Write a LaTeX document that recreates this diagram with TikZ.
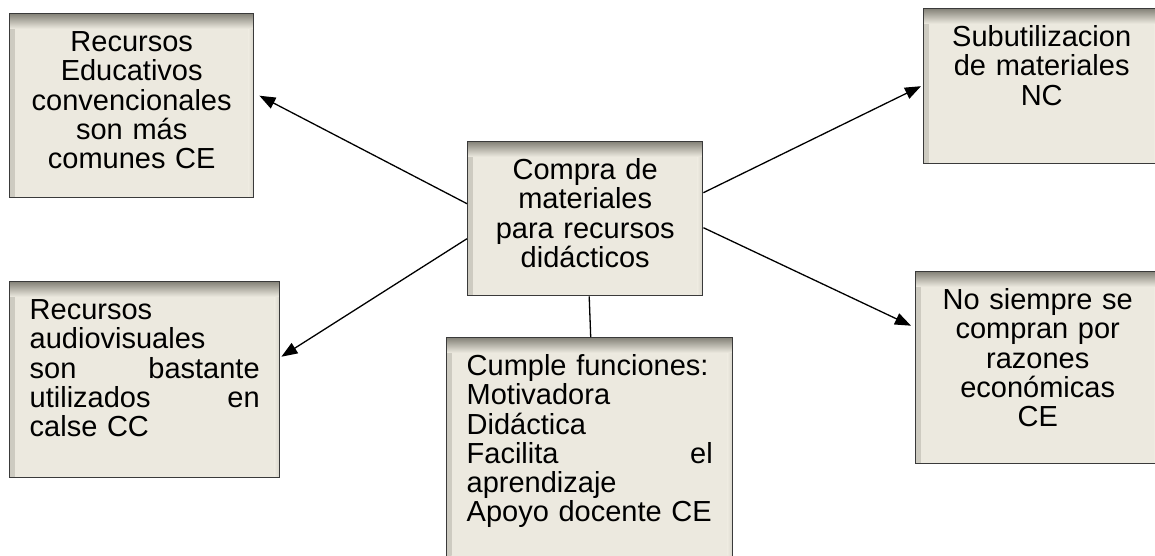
\documentclass[tikz,border=0pt]{standalone}
\usepackage{fontspec}
\setmainfont{Liberation Sans}
\usepackage{tikz}
\usetikzlibrary{arrows.meta}
\definecolor{boxfill}{HTML}{ECE9DF}
\definecolor{boxshade}{HTML}{858379}
\definecolor{boxline}{HTML}{3A3A3A}
\newcommand{\spread}{\hskip 0pt plus 1filll\relax}
\tikzset{
		concept/.style={draw=boxline, line width=1.4pt, fill=boxfill, anchor=north west,
			inner xsep=20pt, inner ysep=0pt, text height=38pt,
			font=\fontsize{29}{29.2}\selectfont,
			path picture={
				\shade[left color=boxfill!70!boxshade, right color=boxfill]
					(path picture bounding box.north west) rectangle ([xshift=5pt]path picture bounding box.south west);
				\shade[left color=boxfill, right color=boxfill!80!boxshade]
					([xshift=-5pt]path picture bounding box.north east) rectangle (path picture bounding box.south east);
				\shade[top color=boxshade, bottom color=boxfill]
					(path picture bounding box.north west) rectangle ([yshift=-15pt]path picture bounding box.north east);
			}},
		link/.style={line width=1.3pt}
	}

\begin{document}
\begin{tikzpicture}[>={Triangle[length=16pt,width=12pt]}, x=1pt, y=-1pt]
				\useasboundingbox (0,0) rectangle (1155,556);
				\clip (0,0) rectangle (1155,556);

				\node[concept, align=center, text width=204pt, text depth=146pt] (recedu)    at (9,13)    {Recursos\\Educativos\\convencionales\\son más\\comunes CE};
				\node[concept, align=left,   text width=230pt, text depth=158pt] (recaud)    at (9,281)   {Recursos\\audiovisuales\\son\spread bastante\\utilizados\spread en\\calse CC};
				\node[concept, align=center, text width=195pt, text depth=116pt] (centre)    at (467,141) {Compra de\\materiales\\para recursos\\didácticos};
				\node[concept, align=left,   text width=246pt, text depth=202pt] (funciones) at (446,337) {Cumple funciones:\\Motivadora\\Didáctica\\Facilita\spread el\\aprendizaje\\\mbox{Apoyo docente CE}};
				\node[concept, align=center, text width=196pt, text depth=117pt] (subutil)   at (923,8)   {Subutilizacion\\de materiales\\NC};
				\node[concept, align=center, text width=204pt, text depth=154pt] (noeco)     at (915,271) {No siempre se\\compran por\\razones\\económicas\\CE};

				\path[->, link] ([yshift=15pt]centre.west)  edge ([xshift=5pt, yshift=10pt]recedu.east);
				\path[->, link] ([yshift=-20pt]centre.west) edge ([xshift=1pt, yshift=23pt]recaud.east);
				\path[->, link] ([yshift=26pt]centre.east)  edge ([xshift=-2pt]subutil.west);
				\path[->, link] ([yshift=-9pt]centre.east)  edge ([xshift=-4pt, yshift=42pt]noeco.west);
				\path[link]     ([xshift=4pt]centre.south)  edge ([xshift=1pt]funciones.north);
			\end{tikzpicture}
\end{document}
